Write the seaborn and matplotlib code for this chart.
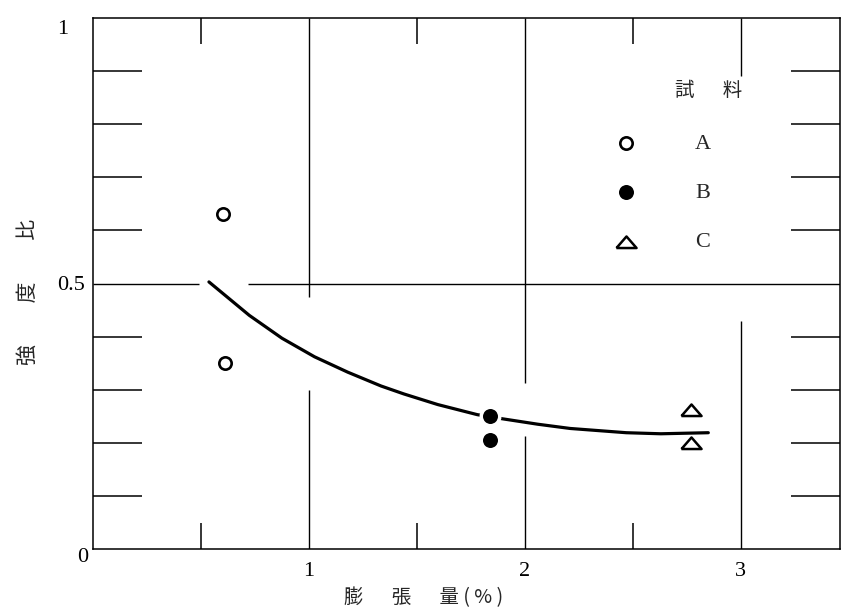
import matplotlib
matplotlib.use("Agg")
import matplotlib.pyplot as plt
import matplotlib.transforms as mtransforms
import seaborn as sns

sns.set_style("white")
plt.rcParams["font.family"] = ["Liberation Serif", "Noto Sans CJK JP", "DejaVu Sans"]

# Measured samples: expansion (%) against strength ratio
sample_a_x = [0.60, 0.61]
sample_a_y = [0.63, 0.35]
sample_b_x = [1.84, 1.84]
sample_b_y = [0.251, 0.206]
sample_c_x = [2.77, 2.77]
sample_c_y = [0.262, 0.200]

# Trend line drawn through the samples
curve_x = [0.537, 0.724, 0.875, 1.026, 1.18, 1.334, 1.44, 1.597, 1.78,
           1.90, 2.06, 2.21, 2.47, 2.63, 2.85]
curve_y = [0.503, 0.440, 0.397, 0.362, 0.333, 0.307, 0.292, 0.272, 0.253,
           0.245, 0.235, 0.227, 0.219, 0.217, 0.219]

x_ticks = [1, 2, 3]
x_tick_labels = ["1", "2", "3"]
y_ticks = [0, 0.5, 1]
y_tick_labels = ["0", "0.5", "1"]
sample_labels = ["A", "B", "C"]

W, H = 842, 612
fig = plt.figure(figsize=(W / 100, H / 100), dpi=100)
ax = fig.add_axes([93 / W, 63 / H, 747 / W, 531 / H])
ax.set_xlim(0, 3.46)
ax.set_ylim(0, 1)

ink = "black"

# broken grid lines (interrupted around the curve, points and key)
grid_kw = dict(color=ink, linewidth=1.0, zorder=1)
ax.vlines(1, 0, 0.30, **grid_kw)
ax.vlines(1, 0.475, 1, **grid_kw)
ax.vlines(2, 0, 0.212, **grid_kw)
ax.vlines(2, 0.313, 1, **grid_kw)
ax.vlines(3, 0, 0.43, **grid_kw)
ax.vlines(3, 0.89, 1, **grid_kw)
ax.hlines(0.5, 0, 0.49, **grid_kw)
ax.hlines(0.5, 0.72, 3.46, **grid_kw)

sns.lineplot(x=curve_x, y=curve_y, color=ink, linewidth=2.3, sort=False,
             estimator=None, ax=ax, zorder=2)

# flattened triangle used for sample C
tri = [(-1.0, -0.55), (1.0, -0.55), (0.0, 0.6), (-1.0, -0.55)]

sns.scatterplot(x=sample_a_x, y=sample_a_y, marker="o", s=79, color="white",
                edgecolor=ink, linewidth=1.9, label=sample_labels[0], ax=ax, zorder=3)
sns.scatterplot(x=sample_b_x, y=sample_b_y, marker="o", s=177, color=ink,
                edgecolor="white", linewidth=2.5, label=sample_labels[1], ax=ax, zorder=3)
sns.scatterplot(x=sample_c_x, y=sample_c_y, marker=tri, s=210, color="white",
                edgecolor=ink, linewidth=1.8, label=sample_labels[2], ax=ax, zorder=3)

ax.set_xticks(x_ticks, x_tick_labels)
ax.set_xticks([0.5, 1.5, 2.5], minor=True)
ax.set_yticks(y_ticks, y_tick_labels)
ax.set_yticks([0.1, 0.2, 0.3, 0.4, 0.6, 0.7, 0.8, 0.9], minor=True)
ax.tick_params(axis="both", which="major", length=0, labelsize=16, colors=ink)
ax.tick_params(axis="x", which="major", pad=9)
ax.tick_params(axis="y", which="major", pad=6)
ax.tick_params(axis="x", which="minor", direction="in", length=19, width=1.1,
               top=True, bottom=True, color=ink)
ax.tick_params(axis="y", which="minor", direction="in", length=35, width=1.1,
               left=True, right=True, color=ink)
for sp in ax.spines.values():
    sp.set_visible(True)
    sp.set_color(ink)
    sp.set_linewidth(1.1)

# nudge the top and origin labels of the y axis
ylabels = ax.get_yticklabels()
nudges = {"1": (-16, -9), "0": (4, -6)}
for lab in ylabels:
    d = nudges.get(lab.get_text())
    if d:
        off = mtransforms.ScaledTranslation(d[0] / 100, d[1] / 100, fig.dpi_scale_trans)
        lab.set_transform(lab.get_transform() + off)

cjk = ["Noto Sans CJK JP", "DejaVu Sans"]
ax.set_ylabel("強　　度　　比", fontsize=15, family=cjk)
ax.yaxis.set_label_coords(-0.072, 0.484)
ax.set_xlabel("膨　  張　  量 ( % )", fontsize=14, family=cjk)
ax.xaxis.set_label_coords(0.443, -0.072)

leg = ax.legend(loc="upper left", bbox_to_anchor=(615 / W, 1 - 133 / H),
                bbox_transform=fig.transFigure, frameon=False, fontsize=16,
                handlelength=1.0, handletextpad=2.6, labelspacing=1.3,
                borderpad=0, borderaxespad=0)
ax.text(0.824, 0.864, "試　  料", transform=ax.transAxes, ha="center",
        va="center", fontsize=14, family=cjk)

fig.savefig("out.png", dpi=100, facecolor="white")
